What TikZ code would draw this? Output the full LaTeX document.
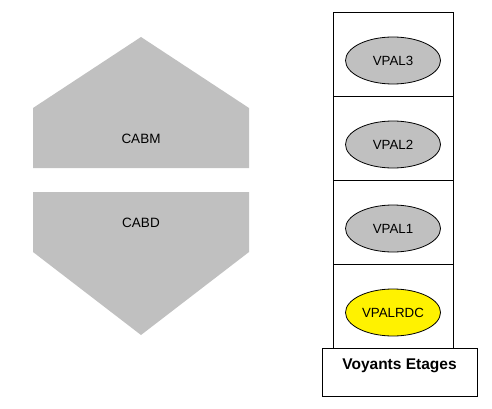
\documentclass[tikz,border=0pt]{standalone}
\usepackage{fontspec}
\setmainfont{Liberation Sans}
\usetikzlibrary{shapes.geometric}
\definecolor{cabgray}{HTML}{C0C0C0}

\begin{document}
\begin{tikzpicture}[x=1pt, y=-1pt, line width=0.8pt,
  etage/.style={draw, minimum width=120pt, minimum height=84pt, inner sep=0pt},
  voyant/.style={ellipse, draw, fill=cabgray, minimum width=95pt, minimum height=47pt, inner sep=0pt, font=\fontsize{13.3}{15}\selectfont},
  cabtext/.style={font=\fontsize{13.5}{15}\selectfont}]

	\useasboundingbox (0,0) rectangle (492,409);

	% the two cabin shapes
	\fill[cabgray] (33,168) -- (33,108) -- (141,37) -- (249,108) -- (249,168) -- cycle;
	\node[cabtext] (cabm) at (141,139) {CABM};
	\fill[cabgray] (33,192) -- (249,192) -- (249,252) -- (141,335) -- (33,252) -- cycle;
	\node[cabtext] (cabd) at (141,223) {CABD};

	% column of floors
	\node[etage] (etage3) at (393,54) {};
	\node[etage] (etage2) at (393,138) {};
	\node[etage] (etage1) at (393,222) {};
	\node[etage] (etage0) at (393,306) {};

	\node[voyant] (vpal3) at (393,60.5) {VPAL3};
	\node[voyant] (vpal2) at (393,144.5) {VPAL2};
	\node[voyant] (vpal1) at (393,228.5) {VPAL1};
	\node[voyant, fill=yellow] (vpalrdc) at (393,312.5) {VPALRDC};

	\node[draw, minimum width=155pt, minimum height=48pt, inner sep=0pt] (titre) at (399.5,372) {};
	\node[font=\bfseries\fontsize{15.5}{17}\selectfont] (titretext) at (399.5,366) {Voyants Etages};

\end{tikzpicture}
\end{document}
